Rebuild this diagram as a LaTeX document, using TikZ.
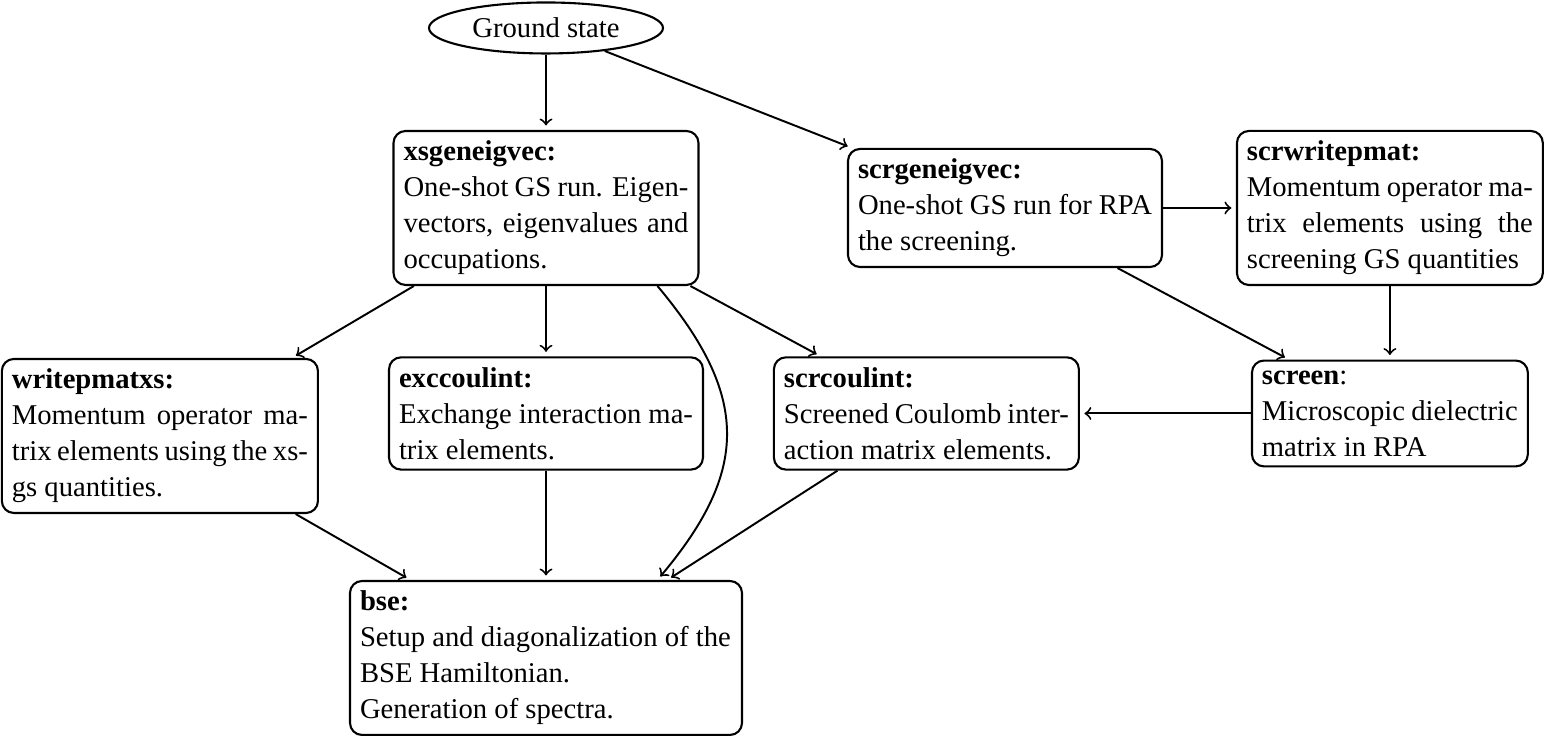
\documentclass[tikz,border=0pt]{standalone}
\usepackage{fontspec}
\setmainfont{Liberation Serif}
\usetikzlibrary{shapes.geometric}
\begin{document}
\begin{tikzpicture}
[x=1pt, y=1pt, font=\fontsize{9.55pt}{12pt}\selectfont,
  boxdecorate/.style={shape=rectangle,rounded corners,draw,line width=0.7pt,
    align=justify,inner sep=3.33pt},%
  linedecorate/.style={->,line width=0.65pt,shorten >=1.5pt}]
\useasboundingbox (0,0) rectangle (515,245.33);
%% ground state
\node (gs) at (182,236) [shape=ellipse,draw,line width=0.7pt,inner sep=0pt,
  minimum width=78pt,minimum height=17pt] {Ground state};
%% tasks
\node (xsgeneigvec) at (182,176) [boxdecorate,text width=95pt]
  {\textbf{xsgeneigvec:}\\ One-shot GS run. Eigen-\linebreak vectors, eigenvalues and\linebreak occupations.};
\node (scrgeneigvec) at (335,176) [boxdecorate,text width=98pt]
  {\textbf{scrgeneigvec:}\\ One-shot GS run for RPA\\ the screening.};
\node (scrwritepmat) at (463.3,176) [boxdecorate,text width=95.3pt]
  {\textbf{scrwritepmat:}\\ Momentum operator ma-\linebreak trix elements using the\linebreak screening GS quantities};
\node (writepmatxs) at (53.3,100) [boxdecorate,text width=98.7pt]
  {\textbf{writepmatxs:}\\ Momentum operator ma-\linebreak trix elements using the xs-\linebreak gs quantities.};
\node (exccoulint) at (182,107.5) [boxdecorate,text width=98pt]
  {\textbf{exccoulint:}\\ Exchange interaction ma-\linebreak trix elements.};
\node (scrcoulint) at (308.8,107.5) [boxdecorate,text width=95pt]
  {\textbf{scrcoulint:}\\ Screened Coulomb inter-\linebreak action matrix elements.};
\node (screen) at (463.3,107.5) [boxdecorate,text width=85.3pt]
  {\textbf{screen}:\\ Microscopic dielectric\\ matrix in RPA};
\node (bse) at (182,26) [boxdecorate,text width=124pt]
  {\textbf{bse:}\\ Setup and diagonalization of the\\ BSE Hamiltonian.\\ Generation of spectra.};
%% edges or lines
\path
\foreach \startnode/\endnode in {gs/xsgeneigvec, gs/scrgeneigvec,
  xsgeneigvec/writepmatxs, xsgeneigvec/exccoulint, xsgeneigvec/scrcoulint,
  scrgeneigvec/scrwritepmat, scrgeneigvec/screen, scrwritepmat/screen,
  screen/scrcoulint, writepmatxs/bse, exccoulint/bse, scrcoulint/bse}
{
  (\startnode) edge[linedecorate] (\endnode)
};
\draw[linedecorate] (xsgeneigvec.-35) to[out=-50,in=50,looseness=1.25] (bse.35);
\end{tikzpicture}
\end{document}
